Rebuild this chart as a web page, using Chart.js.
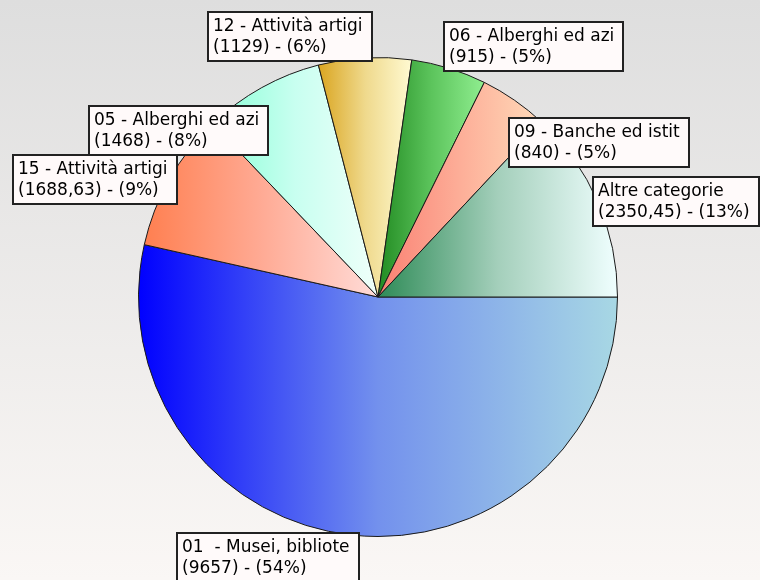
<!DOCTYPE html>
<html lang="it">
<head>
<meta charset="utf-8">
<title>Ripartizione per categoria</title>
<script src="https://cdn.jsdelivr.net/npm/chart.js@4.4.1/dist/chart.umd.min.js"></script>
<style>
    html, body { margin: 0; padding: 0; background: #f0f0f0; }
    #box { width: 760px; height: 580px; position: relative; }
</style>
</head>
<body>
<div id="box"><canvas id="torta"></canvas></div>
<script>
// Dati del grafico
const categorie = ['01  - Musei, bibliote', '15 - Attività artigi', '05 - Alberghi ed azi',
    '12 - Attività artigi', '06 - Alberghi ed azi', '09 - Banche ed istit', 'Altre categorie'];
const valori = [9657, 1688.63, 1468, 1129, 915, 840, 2350.45];

// Colori delle sfumature (sinistra -> centro -> destra)
const coloriInizio = ['#0000ff', '#ff7f50', '#8affd6', '#daa520', '#228b22', '#fa8072', '#2e8b57'];
const coloriMezzo = ['#7391ed', '#ffaa94', '#c8fff0', '#efd98c', '#5cc45c', '#fdae98', '#a4cfbb'];
const coloriFine = ['#a8d8e4', '#ffdcd8', '#f0fffa', '#fffad2', '#90ee90', '#ffdab9', '#f0ffff'];

const totale = valori.reduce((a, b) => a + b, 0);

// Sfumatura orizzontale su tutta la larghezza della fetta
function sfumaturaFetta(context) {
    const chart = context.chart;
    const area = chart.chartArea;
    const i = context.dataIndex;
    if (!area) return coloriInizio[i];
    const cx = (area.left + area.right) / 2;
    const cy = (area.top + area.bottom) / 2;
    const r = Math.min(area.right - area.left, area.bottom - area.top) / 2;
    let prima = 0;
    for (let k = 0; k < i; k++) prima += valori[k];
    const a0 = prima / totale * Math.PI * 2;
    const a1 = (prima + valori[i]) / totale * Math.PI * 2;
    let xs = [cx, cx + r * Math.cos(a0), cx + r * Math.cos(a1)];
    if (a0 <= Math.PI && a1 >= Math.PI) xs.push(cx - r);
    if (a1 >= Math.PI * 2 - 1e-6 || a0 <= 1e-6) xs.push(cx + r);
    const xmin = Math.min(...xs), xmax = Math.max(...xs);
    const g = chart.ctx.createLinearGradient(xmin, 0, xmax, 0);
    g.addColorStop(0, coloriInizio[i]);
    g.addColorStop(0.5, coloriMezzo[i]);
    g.addColorStop(1, coloriFine[i]);
    return g;
}

// Sfondo a sfumatura verticale
const sfondo = {
    id: 'sfondo',
    beforeDraw(chart) {
        const ctx = chart.ctx;
        const g = ctx.createLinearGradient(0, 0, 0, chart.height);
        g.addColorStop(0, '#dedede');
        g.addColorStop(1, '#faf7f5');
        ctx.save();
        ctx.fillStyle = g;
        ctx.fillRect(0, 0, chart.width, chart.height);
        ctx.restore();
    }
};

function formatta(v) {
    return String(v).replace('.', ',');
}

// Etichette in riquadri accanto alle fette
const etichette = {
    id: 'etichette',
    afterDatasetsDraw(chart) {
        const ctx = chart.ctx;
        const arcs = chart.getDatasetMeta(0).data;
        ctx.save();
        ctx.font = '17px "DejaVu Sans"';
        ctx.textBaseline = 'alphabetic';
        const voci = arcs.map((arc, i) => {
            const mid = (arc.startAngle + arc.endAngle) / 2;
            const c = Math.cos(mid), s = Math.sin(mid);
            const riga1 = categorie[i];
            const riga2 = '(' + formatta(valori[i]) + ') - (' + Math.round(valori[i] / totale * 100) + '%)';
            const w = Math.max(ctx.measureText(riga1).width, ctx.measureText(riga2).width) + 14;
            return { i, c, s, ax: arc.x + arc.outerRadius * c, ay: arc.y + arc.outerRadius * s, riga1, riga2, w };
        });
        const h = 49;
        const piazzati = [];
        const sovrapposto = (b) => piazzati.some(p =>
            b.x < p.x + p.w && b.x + b.w > p.x && b.y < p.y + h && b.y + h > p.y);
        voci.slice().sort((a, b) => a.ay - b.ay).forEach(v => {
            const x = v.c < 0 ? v.ax + 7 - v.w : v.ax - 5;
            let y;
            if (v.s < -0.8) y = v.ay + 3 - h;
            else if (v.s > 0.8) y = v.ay - 2;
            else y = v.ay - h / 2;
            let b = { x, y, w: v.w, v };
            if (sovrapposto(b)) b.y = v.ay + 18;
            piazzati.push(b);
        });
        piazzati.forEach(b => {
            const x = Math.round(b.x), y = Math.round(b.y);
            ctx.fillStyle = '#fffafa';
            ctx.fillRect(x, y, b.w, h);
            ctx.lineWidth = 2;
            ctx.strokeStyle = '#222222';
            ctx.strokeRect(x, y, Math.round(b.w), h);
            ctx.fillStyle = '#000000';
            ctx.fillText(b.v.riga1, x + 5, y + 19);
            ctx.fillText(b.v.riga2, x + 5, y + 40);
        });
        ctx.restore();
    }
};

const ctx = document.getElementById('torta').getContext('2d');
const grafico = new Chart(ctx, {
    type: 'pie',
    data: {
        labels: categorie,
        datasets: [{
            data: valori,
            backgroundColor: sfumaturaFetta,
            borderColor: '#1a1a1a',
            borderWidth: 1,
            hoverOffset: 0
        }]
    },
    options: {
        responsive: true,
        maintainAspectRatio: false,
        animation: false,
        rotation: 90,
        layout: { padding: { left: 138, right: 142, top: 57, bottom: 43 } },
        plugins: {
            legend: { display: false },
            tooltip: { enabled: false }
        }
    },
    plugins: [sfondo, etichette]
});
</script>
</body>
</html>
